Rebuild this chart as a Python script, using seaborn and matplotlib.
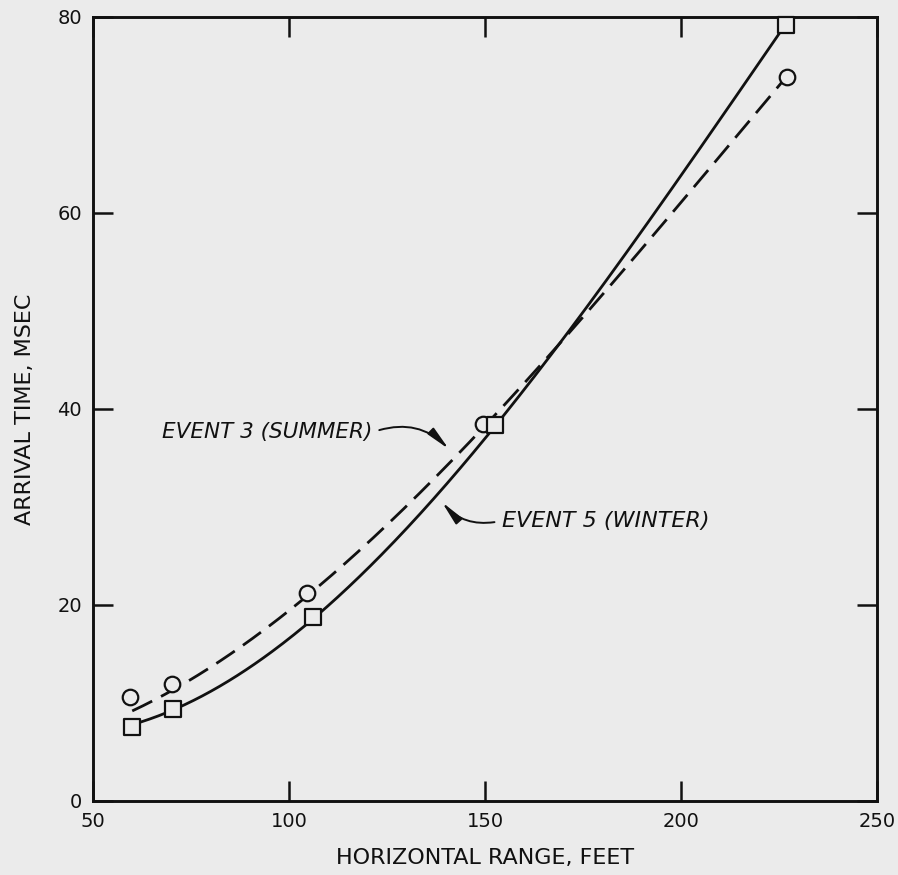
import numpy as np
import pandas as pd
import matplotlib
matplotlib.use("Agg")
import matplotlib.pyplot as plt
import seaborn as sns

# Measured arrival times versus horizontal range
summer_range = [59.5, 70.2, 104.6, 149.5, 227.0]
summer_time = [10.6, 11.9, 21.2, 38.5, 73.9]
winter_range = [60.0, 70.4, 106.1, 152.6, 226.7]
winter_time = [7.5, 9.4, 18.8, 38.4, 79.2]

# Hand-faired curves through each event's data
summer_curve_range = [60.0, 73.5, 102.0, 110.5, 136.0, 150.0, 179.3, 220.2, 227.0]
summer_curve_time = [9.1, 12.1, 20.2, 23.1, 32.0, 38.3, 51.6, 70.7, 73.9]
winter_curve_range = [60.0, 72.2, 102.8, 110.5, 136.0, 152.6, 179.3, 213.3, 226.7]
winter_curve_time = [7.5, 10.0, 17.65, 20.0, 30.0, 38.4, 52.4, 71.5, 79.2]

x_ticks = [50, 100, 150, 200, 250]
y_ticks = [0, 20, 40, 60, 80]

paper = "#ebebeb"
ink = "#111111"

sns.set_theme(style="white")
plt.rcParams["font.family"] = ["DejaVu Sans"]

fig = plt.figure(figsize=(8.98, 8.75), dpi=100, facecolor=paper)
ax = fig.add_axes([0.1036, 0.0846, 0.8730, 0.8960])
ax.set_facecolor(paper)


def smooth_curve(xs, ys):
    coef = np.polyfit(xs, ys, 3)
    xx = np.linspace(xs[0], xs[-1], 300)
    return pd.DataFrame({"range": xx, "time": np.polyval(coef, xx)})


summer_fit = smooth_curve(summer_curve_range, summer_curve_time)
winter_fit = smooth_curve(winter_curve_range, winter_curve_time)

sns.lineplot(data=winter_fit, x="range", y="time", ax=ax, color=ink,
             linewidth=2.0, sort=False, zorder=2)
sns.lineplot(data=summer_fit, x="range", y="time", ax=ax, color=ink,
             linewidth=2.0, linestyle=(0, (8, 3.6)), sort=False, zorder=2)

summer_pts = pd.DataFrame({"range": summer_range, "time": summer_time})
winter_pts = pd.DataFrame({"range": winter_range, "time": winter_time})
sns.scatterplot(data=summer_pts, x="range", y="time", ax=ax, marker="o",
                s=125, facecolor=paper, edgecolor=ink, linewidth=1.6,
                zorder=4, clip_on=False)
sns.scatterplot(data=winter_pts, x="range", y="time", ax=ax, marker="s",
                s=125, facecolor=paper, edgecolor=ink, linewidth=1.6,
                zorder=4, clip_on=False)

ax.set_xlim(50, 250)
ax.set_ylim(0, 80)
ax.set_xticks(x_ticks)
ax.set_yticks(y_ticks)
ax.set_xticklabels([str(v) for v in x_ticks])
ax.set_yticklabels([str(v) for v in y_ticks])

for side in ax.spines.values():
    side.set_visible(True)
    side.set_color(ink)
    side.set_linewidth(2.1)

ax.tick_params(axis="both", which="major", direction="in", length=14.5,
               width=1.8, color=ink, labelcolor=ink, labelsize=14,
               top=True, right=True, bottom=True, left=True)
ax.tick_params(axis="x", pad=8)
ax.tick_params(axis="y", pad=8)

ax.set_xlabel("HORIZONTAL RANGE, FEET", fontsize=16, color=ink, labelpad=12)
ax.set_ylabel("ARRIVAL TIME, MSEC", fontsize=16, color=ink, labelpad=16)
ax.grid(False)

head = "-|>,head_length=0.9,head_width=0.16"
ax.annotate("EVENT 3 (SUMMER)", xy=(140.8, 35.9), xytext=(67.5, 37.6),
            fontsize=15.5, fontstyle="italic", color=ink, va="center",
            ha="left",
            arrowprops=dict(arrowstyle=head, color=ink, lw=1.4,
                            mutation_scale=16, relpos=(1.0, 0.5),
                            shrinkA=3, shrinkB=0,
                            connectionstyle="arc3,rad=-0.32"))
ax.annotate("EVENT 5 (WINTER)", xy=(139.0, 30.5), xytext=(154.3, 28.6),
            fontsize=16, fontstyle="italic", color=ink, va="center",
            ha="left",
            arrowprops=dict(arrowstyle=head, color=ink, lw=1.4,
                            mutation_scale=16, relpos=(0.0, 0.5),
                            shrinkA=3, shrinkB=0,
                            connectionstyle="arc3,rad=-0.3"))

fig.savefig("out.png", dpi=100, facecolor=paper)
